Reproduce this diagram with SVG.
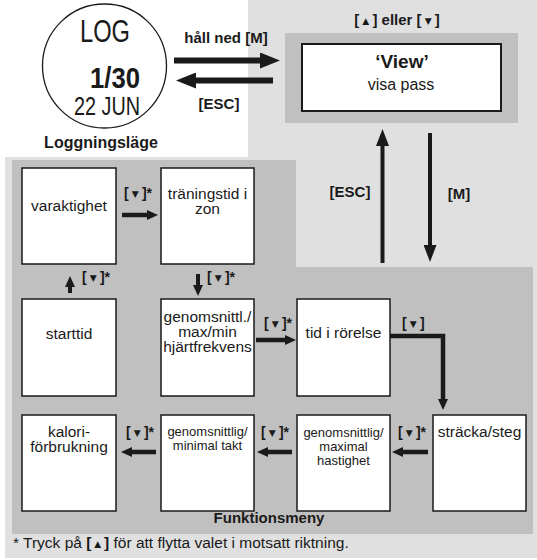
<svg xmlns="http://www.w3.org/2000/svg" width="537" height="560" viewBox="0 0 537 560">
  <defs>
    <style>
      .bgL { fill: #e0e0e0; }
      .bgD { fill: #c0c0c0; }
      .box { fill: #ffffff; stroke: #1a1a1a; stroke-width: 1.5; }
      .txt { font-family: "Liberation Sans", Arial, sans-serif; font-size: 15.5px; fill: #1a1a1a; text-anchor: middle; }
      .sm { font-size: 13px; }
      .bold { font-family: "Liberation Sans", Arial, sans-serif; font-weight: bold; font-size: 15px; fill: #1a1a1a; text-anchor: middle; }
      .lbl { font-family: "Liberation Sans", Arial, sans-serif; font-weight: bold; font-size: 14px; fill: #1a1a1a; }
      .tri { font-family: "DejaVu Sans", sans-serif; font-size: 9px; }
      .lcd { font-family: "Liberation Sans Narrow", "Liberation Sans", Arial, sans-serif; fill: #1a1a1a; }
      .note { font-family: "Liberation Sans", Arial, sans-serif; font-size: 15.5px; fill: #1a1a1a; }
      .con { fill: none; stroke: #1a1a1a; }
      .w6 { stroke-width: 6; }
      .w45 { stroke-width: 4.5; }
      .w4 { stroke-width: 4; }
    </style>
    <marker id="headBig" viewBox="0 0 20 16" refX="2" refY="8" markerWidth="20" markerHeight="16" markerUnits="userSpaceOnUse" orient="auto">
      <path d="M0,0 L20,8 L0,16 z" fill="#1a1a1a"/>
    </marker>
    <marker id="headMed" viewBox="0 0 17 13" refX="2" refY="6.5" markerWidth="17" markerHeight="13" markerUnits="userSpaceOnUse" orient="auto">
      <path d="M0,0 L17,6.5 L0,13 z" fill="#1a1a1a"/>
    </marker>
    <marker id="headSm" viewBox="0 0 11 10" refX="2" refY="5" markerWidth="11" markerHeight="10" markerUnits="userSpaceOnUse" orient="auto">
      <path d="M0,0 L11,5 L0,10 z" fill="#1a1a1a"/>
    </marker>
  </defs>

  <!-- page background -->
  <rect width="537" height="560" fill="#ffffff"/>
  <path class="bgL" d="M248,0 H537 V558 H5 V157 H248 Z"/>
  <!-- function menu panel -->
  <path class="bgD" d="M12,160 H296 V267 H533 V534 H12 Z"/>

  <!-- watch in log mode -->
  <g id="watch">
    <circle cx="104.5" cy="66" r="62" fill="#ffffff" stroke="#1a1a1a" stroke-width="1.3"/>
    <text class="lcd" x="80" y="42" style="font-size:31px" textLength="50" lengthAdjust="spacingAndGlyphs">LOG</text>
    <text class="lcd" x="90" y="88" style="font-size:29px;font-weight:bold" textLength="50" lengthAdjust="spacingAndGlyphs">1/30</text>
    <text class="lcd" x="74" y="115" style="font-size:25px" textLength="66" lengthAdjust="spacingAndGlyphs">22 JUN</text>
    <text class="bold" x="101" y="148" style="font-size:16px">Loggningsläge</text>
  </g>

  <!-- view screen -->
  <g id="view">
    <rect x="285" y="33" width="233" height="90" class="bgD"/>
    <rect x="302" y="44" width="199" height="67" fill="#ffffff" stroke="#1a1a1a" stroke-width="2"/>
    <text class="bold" x="402" y="68" style="font-size:19px">‘View’</text>
    <text class="txt" x="401" y="90" style="font-size:16px">visa pass</text>
    <text class="bold" x="397" y="25">[<tspan class="tri" dy="-1.5"> ▲ </tspan><tspan dy="1.5">] eller [</tspan><tspan class="tri" dy="-1.5"> ▼ </tspan><tspan dy="1.5">]</tspan></text>
  </g>

  <!-- function menu nodes -->
  <g id="varaktighet">
    <rect class="box" x="22" y="168" width="94" height="96"/>
    <text class="txt" x="69" y="211">varaktighet</text>
  </g>
  <g id="traningstid">
    <rect class="box" x="161" y="168" width="93" height="96"/>
    <text class="txt" x="207.5" y="199">träningstid i</text>
    <text class="txt" x="207.5" y="214">zon</text>
  </g>
  <g id="starttid">
    <rect class="box" x="22" y="299" width="94" height="97"/>
    <text class="txt" x="69" y="339">starttid</text>
  </g>
  <g id="hjartfrekvens">
    <rect class="box" x="161" y="299" width="93" height="97"/>
    <text class="txt" x="207.5" y="322">genomsnittl./</text>
    <text class="txt" x="207.5" y="337">max/min</text>
    <text class="txt" x="207.5" y="352">hjärtfrekvens</text>
  </g>
  <g id="tid-i-rorelse">
    <rect class="box" x="297" y="299" width="93" height="97"/>
    <text class="txt" x="343.5" y="338">tid i rörelse</text>
  </g>
  <g id="stracka">
    <rect class="box" x="433" y="415" width="93" height="96"/>
    <text class="txt" x="479.5" y="437">sträcka/steg</text>
  </g>
  <g id="hastighet">
    <rect class="box" x="297" y="415" width="93" height="96"/>
    <text class="txt sm" x="343.5" y="437">genomsnittlig/</text>
    <text class="txt sm" x="343.5" y="451">maximal</text>
    <text class="txt sm" x="343.5" y="465">hastighet</text>
  </g>
  <g id="takt">
    <rect class="box" x="161" y="415" width="93" height="96"/>
    <text class="txt sm" x="207.5" y="436">genomsnittlig/</text>
    <text class="txt sm" x="207.5" y="450">minimal takt</text>
  </g>
  <g id="kalori">
    <rect class="box" x="22" y="415" width="94" height="96"/>
    <text class="txt" x="69" y="437">kalori-</text>
    <text class="txt" x="69" y="452">förbrukning</text>
  </g>

  <!-- connectors -->
  <g id="connectors">
    <line class="con w6" x1="174" y1="60.5" x2="262" y2="60.5" marker-end="url(#headBig)"/>
    <line class="con w6" x1="273" y1="80.5" x2="194" y2="80.5" marker-end="url(#headBig)"/>
    <line class="con w4" x1="382.5" y1="263" x2="382.5" y2="144" marker-end="url(#headMed)"/>
    <line class="con w4" x1="430" y1="133" x2="430" y2="247" marker-end="url(#headMed)"/>
    <line class="con w45" x1="122" y1="215" x2="149" y2="215" marker-end="url(#headSm)"/>
    <line class="con w4" x1="198" y1="274" x2="198" y2="287" marker-end="url(#headSm)"/>
    <line class="con w4" x1="70" y1="293" x2="70" y2="285" marker-end="url(#headSm)"/>
    <line class="con w45" x1="256" y1="340" x2="287" y2="340" marker-end="url(#headSm)"/>
    <polyline class="con w45" points="390,336 443,336 443,401" marker-end="url(#headSm)"/>
    <line class="con w45" x1="428" y1="452" x2="401" y2="452" marker-end="url(#headSm)"/>
    <line class="con w45" x1="292" y1="452" x2="266" y2="452" marker-end="url(#headSm)"/>
    <line class="con w45" x1="156" y1="452" x2="130" y2="452" marker-end="url(#headSm)"/>

    <text class="bold" x="226" y="43">håll ned [M]</text>
    <text class="bold" x="219" y="109">[ESC]</text>
    <text class="bold" x="350" y="197">[ESC]</text>
    <text class="bold" x="459" y="199">[M]</text>

    <text class="lbl" x="124" y="198">[<tspan class="tri" dy="-1.5"> ▼ </tspan><tspan dy="1.5">]*</tspan></text>
    <text class="lbl" x="207" y="282">[<tspan class="tri" dy="-1.5"> ▼ </tspan><tspan dy="1.5">]*</tspan></text>
    <text class="lbl" x="82" y="282">[<tspan class="tri" dy="-1.5"> ▼ </tspan><tspan dy="1.5">]*</tspan></text>
    <text class="lbl" x="264" y="328">[<tspan class="tri" dy="-1.5"> ▼ </tspan><tspan dy="1.5">]*</tspan></text>
    <text class="lbl" x="402" y="328">[<tspan class="tri" dy="-1.5"> ▼ </tspan><tspan dy="1.5">]</tspan></text>
    <text class="lbl" x="398" y="437">[<tspan class="tri" dy="-1.5"> ▼ </tspan><tspan dy="1.5">]*</tspan></text>
    <text class="lbl" x="261" y="437">[<tspan class="tri" dy="-1.5"> ▼ </tspan><tspan dy="1.5">]*</tspan></text>
    <text class="lbl" x="126" y="437">[<tspan class="tri" dy="-1.5"> ▼ </tspan><tspan dy="1.5">]*</tspan></text>
  </g>

  <text class="bold" x="269" y="523">Funktionsmeny</text>
  <text class="note" x="13" y="548">* Tryck på <tspan font-weight="bold">[</tspan><tspan class="tri" dy="-1.5"> ▲ </tspan><tspan font-weight="bold" dy="1.5">]</tspan> för att flytta valet i motsatt riktning.</text>
</svg>
